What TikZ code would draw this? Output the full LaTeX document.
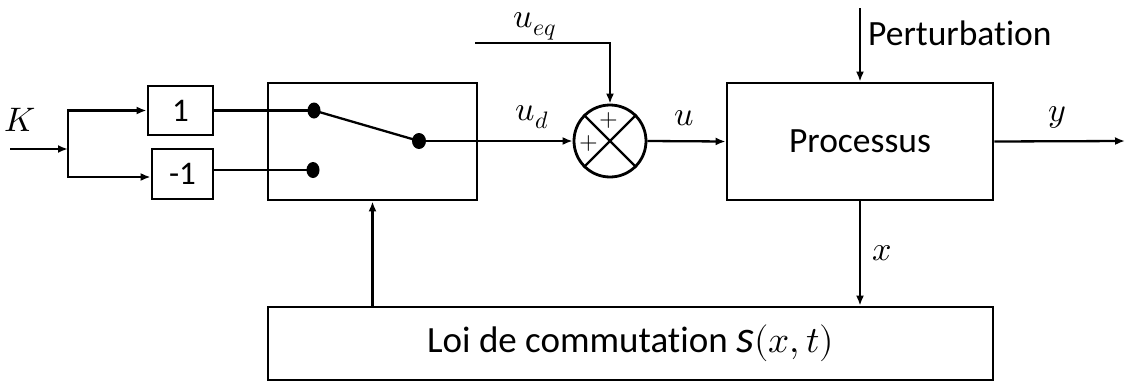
\documentclass[tikz,border=0pt]{standalone}
\usepackage{fontspec}
\usepackage{unicode-math}
\setmainfont{Carlito}[Ligatures=NoCommon]
\setmathfont{Latin Modern Math}
\usetikzlibrary{arrows.meta,calc}
\begin{document}
\begin{tikzpicture}[x=1pt,y=-1pt,
  every node/.style={font=\fontsize{35.5}{40}\selectfont},
  blk/.style={draw,line width=2.8pt,rectangle,inner sep=0pt},
  conn/.style={line width=2.3pt},
  arr/.style={conn,-{Latex[length=10pt,width=8pt]}},
  lbl/.style={inner sep=0pt,font=\fontsize{34}{38}\selectfont},
  pm/.style={inner sep=0pt,font=\fontsize{24}{26}\selectfont}]
\useasboundingbox (0,0) rectangle (1125,383);
% gain blocks
\node[blk,minimum width=65pt,minimum height=49pt,font=\fontsize{33}{38}\selectfont] (b1) at (180.5,110.5) {1};
\node[blk,minimum width=61pt,minimum height=50pt,font=\fontsize{33}{38}\selectfont] (bm1) at (182.5,174) {-1};
% switch block
\node[blk,minimum width=209pt,minimum height=117pt] (sw) at (372.5,141.5) {};
% summing junction
\node[draw,circle,line width=2.8pt,minimum size=72pt,inner sep=0pt] (sum) at (610,141) {};
\draw[conn] (sum.north west) -- (sum.south east);
\draw[conn] (sum.north east) -- (sum.south west);
\node[pm] (p1) at (609,120) {$+$};
\node[pm] (p2) at (589,143) {$+$};
% process
\node[blk,minimum width=266pt,minimum height=117pt] (proc) at (860,141.5) {Processus};
% switching law
\node[blk,minimum width=725pt,minimum height=73pt,font=\fontsize{37}{40}\selectfont] (loi) at (630.5,343.5)
  {Loi de commutation {\fontsize{46}{46}\selectfont\itshape s}$(x,t)$};
% input
\coordinate (in) at (10,149);
\coordinate (j) at (68,149);
\node[lbl] (K) at (20,120) {$K$};
\draw[arr] (in) -- (j);
\draw[arr] (j) |- (b1.west);
\draw[arr] (j) |- ([yshift=-3pt]bm1.west);
% switch internals
\coordinate (c1) at (b1.east -| 314,0);
\coordinate (c2) at ([yshift=4pt]bm1.east -| 313,0);
\coordinate (pv) at (419,141);
\draw[conn] (b1.east) -- (c1);
\draw[conn] ([yshift=4pt]bm1.east) -- (c2);
\draw[conn] (c1) -- (pv);
\fill (c1) ellipse (6.5pt and 8pt);
\fill (c2) ellipse (6.5pt and 8pt);
\fill (pv) ellipse (7pt and 8pt);
\draw[arr] (pv) -- (sum.west);
\node[lbl] (ud) at (532,117) {$u_d$};
% u_eq
\coordinate (ueq) at (475,43);
\draw[arr] (ueq) -| (sum.north);
\node[lbl] (ueqlbl) at (535,26) {$u_{eq}$};
% sum to process
\draw[arr] (sum.east) -- (proc.west);
\node[lbl] (u) at (684,118) {$u$};
% perturbation
\coordinate (pt) at (proc.north |- 0,8);
\draw[arr] (pt) -- (proc.north);
\node[lbl,anchor=west,font=\fontsize{35.5}{40}\selectfont] (pert) at (868,33) {Perturbation};
% output
\coordinate (yout) at (1125,141);
\draw[arr] (proc.east) -- (yout);
\node[lbl] (y) at (1057,117) {$y$};
% state feedback
\draw[arr] (proc.south) -- (proc.south |- loi.north);
\node[lbl] (x) at (882,253) {$x$};
\draw[arr] (loi.north -| sw.south) -- (sw.south);
\end{tikzpicture}
\end{document}
